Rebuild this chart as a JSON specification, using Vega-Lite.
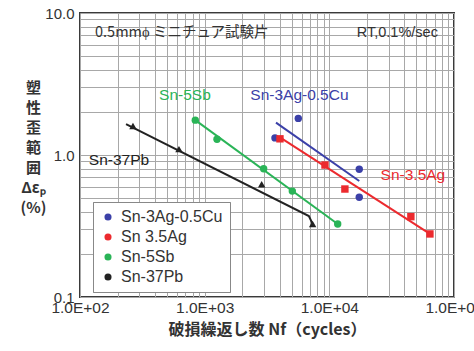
{
  "$schema": "https://vega.github.io/schema/vega-lite/v6.json",
  "autosize": "none",
  "width": 374,
  "height": 284,
  "padding": {"left": 80, "top": 13, "right": 20, "bottom": 54},
  "background": "white",
  "config": {
    "font": "Liberation Sans",
    "view": {"stroke": "#3a3a3a", "strokeWidth": 2},
    "axis": {"labelFont": "Liberation Sans", "labelFontSize": 15, "labelColor": "#333", "titleColor": "#333", "gridColor": "#a8a8a8", "gridWidth": 1, "ticks": false, "domain": false, "labelOverlap": false, "labelBound": false, "labelFlush": false}
  },
  "datasets": {
    "pts": [
      {"series": "Sn-3Ag-0.5Cu", "n": 5637, "e": 1.81},
      {"series": "Sn-3Ag-0.5Cu", "n": 3664, "e": 1.32},
      {"series": "Sn-3Ag-0.5Cu", "n": 17380, "e": 0.793},
      {"series": "Sn-3Ag-0.5Cu", "n": 17380, "e": 0.504},
      {"series": "Sn 3.5Ag", "n": 4018, "e": 1.30},
      {"series": "Sn 3.5Ag", "n": 9230, "e": 0.85},
      {"series": "Sn 3.5Ag", "n": 13330, "e": 0.576},
      {"series": "Sn 3.5Ag", "n": 45080, "e": 0.368},
      {"series": "Sn 3.5Ag", "n": 64100, "e": 0.278},
      {"series": "Sn-5Sb", "n": 841, "e": 1.76},
      {"series": "Sn-5Sb", "n": 1256, "e": 1.29},
      {"series": "Sn-5Sb", "n": 2972, "e": 0.80},
      {"series": "Sn-5Sb", "n": 5047, "e": 0.557},
      {"series": "Sn-5Sb", "n": 11670, "e": 0.327},
      {"series": "Sn-37Pb", "n": 266, "e": 1.60},
      {"series": "Sn-37Pb", "n": 622, "e": 1.10},
      {"series": "Sn-37Pb", "n": 2866, "e": 0.622},
      {"series": "Sn-37Pb", "n": 7345, "e": 0.327}
    ],
    "fits": [
      {"series": "Sn-3Ag-0.5Cu", "n": 3733, "e": 1.69},
      {"series": "Sn-3Ag-0.5Cu", "n": 17380, "e": 0.656},
      {"series": "Sn 3.5Ag", "n": 4018, "e": 1.33},
      {"series": "Sn 3.5Ag", "n": 64100, "e": 0.278},
      {"series": "Sn-5Sb", "n": 841, "e": 1.76},
      {"series": "Sn-5Sb", "n": 11670, "e": 0.327},
      {"series": "Sn-37Pb", "n": 234, "e": 1.65},
      {"series": "Sn-37Pb", "n": 6850, "e": 0.372},
      {"series": "Sn-37Pb", "n": 7345, "e": 0.327}
    ],
    "labels": [
      {"series": "Sn-5Sb", "text": "Sn-5Sb", "n": 695, "e": 2.645},
      {"series": "Sn-3Ag-0.5Cu", "text": "Sn-3Ag-0.5Cu", "n": 5757, "e": 2.645},
      {"series": "Sn-37Pb", "text": "Sn-37Pb", "n": 205.6, "e": 0.922},
      {"series": "Sn 3.5Ag", "text": "Sn-3.5Ag", "n": 46800, "e": 0.723}
    ],
    "notes": [
      {"text": "0.5mmϕ ミニチュア試験片", "n": 132, "e": 7.23, "side": "left"},
      {"text": "RT,0.1%/sec", "n": 74300, "e": 7.23, "side": "right"}
    ]
  },
  "layer": [
    {
      "data": {"name": "fits"},
      "mark": {"type": "line", "strokeWidth": 2},
      "encoding": {
        "x": {"field": "n", "type": "quantitative", "scale": {"type": "log", "domain": [100, 100000], "nice": false},
          "axis": {"values": [100,200,300,400,500,600,700,800,900,1000,2000,3000,4000,5000,6000,7000,8000,9000,10000,20000,30000,40000,50000,60000,70000,80000,90000,100000],
            "labelExpr": "datum.value == 100 ? '1.0E+02' : datum.value == 1000 ? '1.0E+03' : datum.value == 10000 ? '1.0E+04' : datum.value == 100000 ? '1.0E+05' : ''",
            "labelPadding": 3, "labelFontSize": 15.5,
            "title": "破損繰返し数 Nf（cycles）", "titleFont": "Noto Sans CJK JP", "titleFontSize": 16, "titleFontWeight": "bold", "titlePadding": 6}},
        "y": {"field": "e", "type": "quantitative", "scale": {"type": "log", "domain": [0.1, 10], "nice": false},
          "axis": {"values": [0.1,0.2,0.3,0.4,0.5,0.6,0.7,0.8,0.9,1,2,3,4,5,6,7,8,9,10],
            "labelExpr": "datum.value == 0.1 ? '0.1' : datum.value == 1 ? '1.0' : datum.value == 10 ? '10.0' : ''",
            "labelPadding": 6,
            "title": ["塑", "性", "歪", "範", "囲", "Δεₚ", "(%)"], "titleFont": "Noto Sans CJK JP", "titleFontSize": 15, "titleFontWeight": "bold",
            "titleAngle": 0, "titleAlign": "center", "titleBaseline": "top", "titleX": -47, "titleY": 67, "titleLineHeight": 20}},
        "color": {"field": "series", "type": "nominal", "legend": null,
          "scale": {"domain": ["Sn-3Ag-0.5Cu", "Sn 3.5Ag", "Sn-5Sb", "Sn-37Pb"], "range": ["#3b40a8", "#ec2a2e", "#2ab457", "#222222"]}},
        "detail": {"field": "series"}
      }
    },
    {
      "data": {"name": "pts"},
      "mark": {"type": "point", "filled": true, "opacity": 1, "size": 55},
      "encoding": {
        "x": {"field": "n", "type": "quantitative"},
        "y": {"field": "e", "type": "quantitative"},
        "color": {"field": "series", "type": "nominal",
          "scale": {"domain": ["Sn-3Ag-0.5Cu", "Sn 3.5Ag", "Sn-5Sb", "Sn-37Pb"], "range": ["#3b40a8", "#ec2a2e", "#2ab457", "#222222"]},
          "legend": {"title": null, "orient": "none", "legendX": 13, "legendY": 189, "labelFontSize": 16, "labelColor": "#333", "symbolSize": 50, "padding": 7, "rowPadding": 4, "strokeColor": "#888", "fillColor": "white", "labelOffset": 5}},
        "shape": {"field": "series", "type": "nominal",
          "scale": {"domain": ["Sn-3Ag-0.5Cu", "Sn 3.5Ag", "Sn-5Sb", "Sn-37Pb"], "range": ["circle", "square", "circle", "triangle-up"]},
          "legend": {"title": null, "orient": "none", "legendX": 13, "legendY": 189, "labelFontSize": 16, "labelColor": "#333", "symbolSize": 50, "padding": 7, "rowPadding": 4, "strokeColor": "#888", "fillColor": "white", "labelOffset": 5}}
      }
    },
    {
      "data": {"name": "labels"},
      "mark": {"type": "text", "fontSize": 15.5, "align": "center", "baseline": "middle"},
      "encoding": {
        "x": {"field": "n", "type": "quantitative"},
        "y": {"field": "e", "type": "quantitative"},
        "text": {"field": "text"},
        "color": {"field": "series", "type": "nominal", "legend": null,
          "scale": {"domain": ["Sn-3Ag-0.5Cu", "Sn 3.5Ag", "Sn-5Sb", "Sn-37Pb"], "range": ["#3b40a8", "#ec2a2e", "#2ab457", "#222222"]}}
      }
    },
    {
      "data": {"name": "notes"},
      "transform": [{"filter": "datum.side == 'left'"}],
      "mark": {"type": "text", "fontSize": 14.5, "font": "Noto Sans CJK JP", "align": "left", "baseline": "middle", "color": "#333"},
      "encoding": {
        "x": {"field": "n", "type": "quantitative"},
        "y": {"field": "e", "type": "quantitative"},
        "text": {"field": "text"}
      }
    },
    {
      "data": {"name": "notes"},
      "transform": [{"filter": "datum.side == 'right'"}],
      "mark": {"type": "text", "fontSize": 14.5, "align": "right", "baseline": "middle", "color": "#333"},
      "encoding": {
        "x": {"field": "n", "type": "quantitative"},
        "y": {"field": "e", "type": "quantitative"},
        "text": {"field": "text"}
      }
    }
  ],
  "resolve": {"scale": {"color": "independent"}}
}
